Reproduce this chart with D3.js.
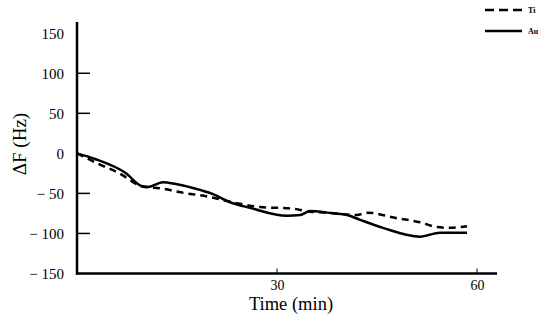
<!DOCTYPE html>
<html>
<head>
<meta charset="utf-8">
<script src="https://cdn.jsdelivr.net/npm/d3@7"></script>
<style>
  body { margin: 0; background: #fff; }
  text { font-family: "Liberation Serif", "Times New Roman", serif; fill: #000; }
</style>
</head>
<body>
<div id="chart"></div>
<script>
// data (time in min, delta F in Hz)
var auTime = [0, 2.7, 7.2, 9.75, 10.6, 12.9, 14.7, 17.25, 20.4, 22.95, 25.95, 31.5, 33.45, 34.95, 37.5, 40.5, 42.45, 45.9, 51.45, 54.45, 58.5];
var auVals = [0, -7, -24, -41, -42, -36, -38, -43, -51, -61, -68, -78, -77, -72, -74, -77, -83, -93, -104, -99, -99];
var tiTime = [0, 3.45, 6.15, 9.75, 12.75, 15.75, 19.65, 24.45, 27.45, 32.4, 34.95, 37.5, 42, 43.5, 48, 51.45, 54, 55.95, 58.5];
var tiVals = [0, -14, -24, -41, -44, -49, -54, -63, -67, -69, -73, -74, -77, -74, -81, -86, -92, -93, -91];
var yTickLabels = [150, 100, 50, 0, -50, -100, -150];
var yTickMarks = [100, 50, -50, -100];
var xTickLabels = [30, 60];

var width = 550, height = 320;

var x = d3.scaleLinear().domain([0, 63]).range([77, 497]);
var y = d3.scaleLinear().domain([-150, 164]).range([273.5, 22]);

var svg = d3.select("#chart").append("svg")
  .attr("width", width)
  .attr("height", height);

//axis lines
svg.append("line")
  .attr("x1", x(0)).attr("x2", x(0))
  .attr("y1", y(164)).attr("y2", y(-150) + 1)
  .attr("stroke", "#000").attr("stroke-width", 2.5);
svg.append("line")
  .attr("x1", x(0) - 1).attr("x2", x(63))
  .attr("y1", y(-150)).attr("y2", y(-150))
  .attr("stroke", "#000").attr("stroke-width", 2.5);

//y tick labels
var yAxis = svg.append("g")
  .attr("transform", "translate(" + x(0) + ",0)")
  .call(d3.axisLeft(y).tickValues(yTickLabels).tickSize(0).tickPadding(13)
    .tickFormat(function(d) { return d < 0 ? "\u2212 " + Math.abs(d) : d; }))
  .attr("font-family", "Liberation Serif, serif");
yAxis.select(".domain").remove();
yAxis.selectAll("text")
  .attr("font-size", 15);

//inward y ticks
svg.selectAll(".ytick")
  .data(yTickMarks)
  .enter().append("line")
  .attr("class", "ytick")
  .attr("x1", x(0)).attr("x2", x(0) + 13)
  .attr("y1", function(d) { return y(d); })
  .attr("y2", function(d) { return y(d); })
  .attr("stroke", "#000").attr("stroke-width", 1.5);

//x tick labels
var xAxis = svg.append("g")
  .attr("transform", "translate(0," + y(-150) + ")")
  .call(d3.axisBottom(x).tickValues(xTickLabels).tickSize(0).tickPadding(7))
  .attr("font-family", "Liberation Serif, serif");
xAxis.select(".domain").remove();
xAxis.selectAll("text")
  .attr("font-size", 14);

svg.selectAll(".xtick")
  .data(xTickLabels)
  .enter().append("line")
  .attr("class", "xtick")
  .attr("x1", function(d) { return x(d); })
  .attr("x2", function(d) { return x(d); })
  .attr("y1", y(-150)).attr("y2", y(-150) - 5)
  .attr("stroke", "#000").attr("stroke-width", 1);

//axis titles
svg.append("text")
  .attr("x", 291)
  .attr("y", 310)
  .attr("text-anchor", "middle")
  .attr("font-size", 18.5)
  .text("Time (min)");

svg.append("text")
  .attr("transform", "translate(26,144) rotate(-90)")
  .attr("text-anchor", "middle")
  .attr("font-size", 19)
  .text("\u0394F (Hz)");

//lines
var line = d3.line()
  .x(function(d) { return x(d[0]); })
  .y(function(d) { return y(d[1]); })
  .curve(d3.curveMonotoneX);

svg.append("path")
  .datum(d3.zip(tiTime, tiVals))
  .attr("d", line)
  .attr("fill", "none")
  .attr("stroke", "#000")
  .attr("stroke-width", 2.5)
  .attr("stroke-dasharray", "7,5");

svg.append("path")
  .datum(d3.zip(auTime, auVals))
  .attr("d", line)
  .attr("fill", "none")
  .attr("stroke", "#000")
  .attr("stroke-width", 2.5);

//legend
var legend = [
  {name: "Ti", dash: "9,5", ly: 10},
  {name: "Au", dash: null, ly: 31}
];
var lg = svg.selectAll(".legend")
  .data(legend)
  .enter().append("g")
  .attr("class", "legend");
lg.append("line")
  .attr("x1", 485).attr("x2", 522)
  .attr("y1", function(d) { return d.ly; })
  .attr("y2", function(d) { return d.ly; })
  .attr("stroke", "#000").attr("stroke-width", 2.5)
  .attr("stroke-dasharray", function(d) { return d.dash; });
lg.append("text")
  .attr("x", 528)
  .attr("y", function(d) { return d.ly + 3; })
  .attr("font-size", 8)
  .attr("font-weight", "bold")
  .text(function(d) { return d.name; });
</script>
</body>
</html>
